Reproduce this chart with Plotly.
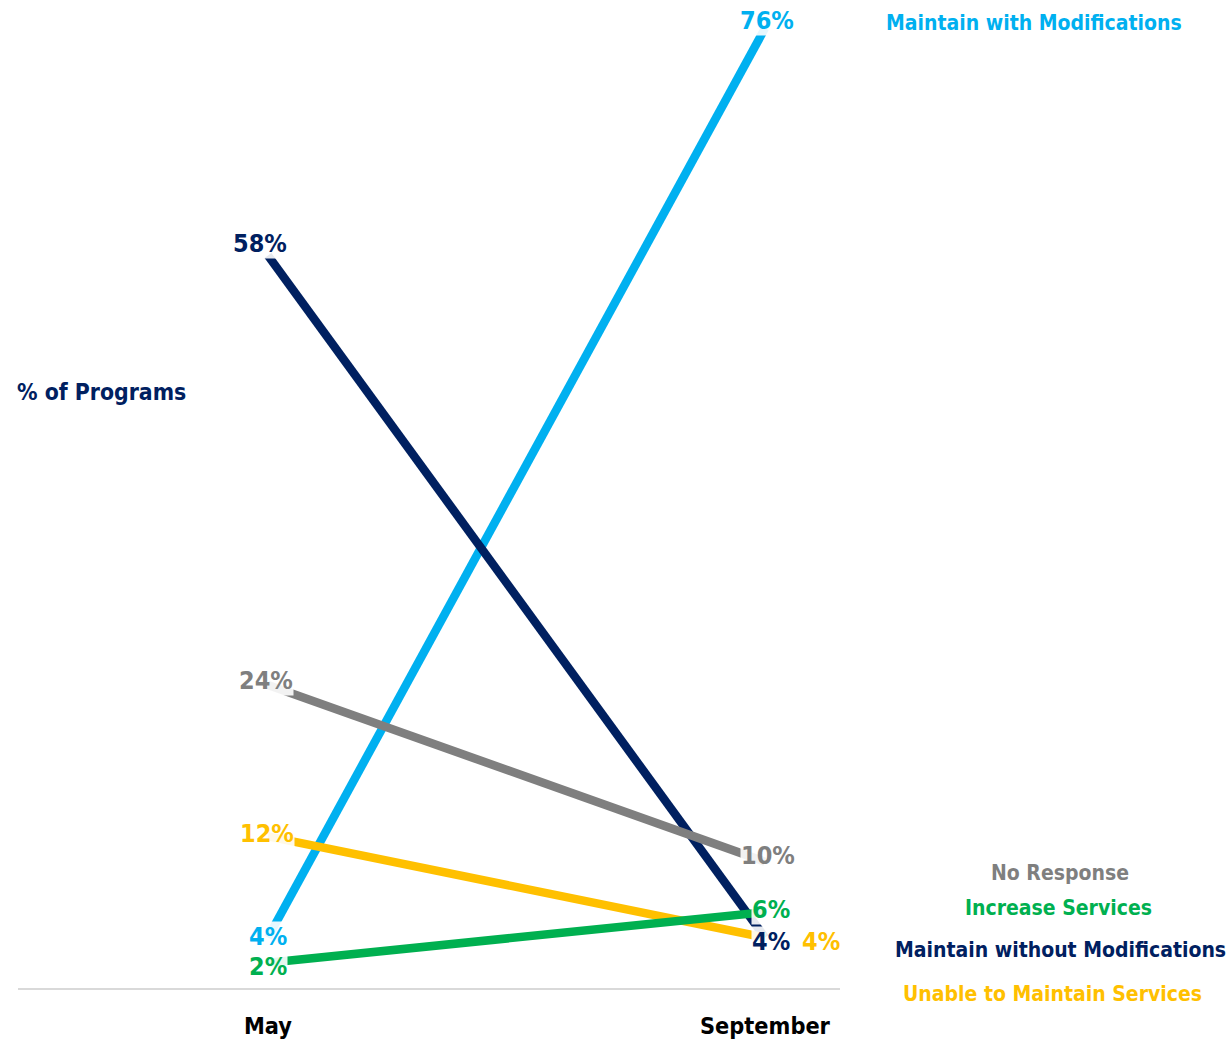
import plotly.graph_objects as go

periods = ["May", "September"]
series_names = ["Maintain with Modifications", "Maintain without Modifications",
                "No Response", "Unable to Maintain Services", "Increase Services"]
may_values = [4, 58, 24, 12, 2]
sep_values = [76, 4, 10, 4, 6]
colors = ["#00B0F0", "#002060", "#7F7F7F", "#FFC000", "#00B050"]

FONT = "DejaVu Sans Condensed, Liberation Sans Narrow, sans-serif"

# plot-area geometry (pixels) for converting paper positions
L, R, T, B = 18, 840, 3, 988

fig = go.Figure()
for name, a, b, c in zip(series_names, may_values, sep_values, colors):
    fig.add_trace(go.Scatter(x=[0, 1], y=[a, b], mode="lines", name=name,
                             line=dict(color=c, width=8.5), showlegend=False,
                             hoverinfo="skip"))

# label offsets (style only): (xshift, yshift) for May and September
may_shift = [(0, 1), (-8, 12), (-2, 4), (-1, 3), (0, -4)]
sep_shift = [(2, 8), (6, -4), (3, 6), (56, -4), (6, 3)]

for i, (a, b, c) in enumerate(zip(may_values, sep_values, colors)):
    for xv, v, sh in ((0, a, may_shift[i]), (1, b, sep_shift[i])):
        fig.add_annotation(x=xv, y=v, xref="x", yref="y", text=f"{v}%",
                           showarrow=False, xanchor="center", yanchor="middle",
                           xshift=sh[0], yshift=sh[1], bgcolor="rgba(255,255,255,0.9)",
                           borderpad=0,
                           font=dict(family=FONT, size=25, color=c, weight="bold"))

legend_items = [
    ("Maintain with Modifications", "#00B0F0", 1034, 23),
    ("No Response", "#7F7F7F", 1060, 873),
    ("Increase Services", "#00B050", 1058, 908),
    ("Maintain without Modifications", "#002060", 1060, 950),
    ("Unable to Maintain Services", "#FFC000", 1052, 994),
]
for text, c, px, py in legend_items:
    fig.add_annotation(x=(px - L) / (R - L), y=(B - py) / (B - T), xref="paper", yref="paper",
                       text=text, showarrow=False, xanchor="center", yanchor="middle",
                       font=dict(family=FONT, size=21, color=c, weight="bold"))

fig.add_annotation(x=(15 - L) / (R - L), y=(B - 392) / (B - T), xref="paper", yref="paper",
                   text="% of Programs", showarrow=False, xanchor="left", yanchor="middle",
                   font=dict(family=FONT, size=22.8, color="#002060", weight="bold"))

fig.update_layout(
    width=1228, height=1043,
    margin=dict(l=L, r=1228 - R, t=T, b=1043 - B),
    plot_bgcolor="white", paper_bgcolor="white",
    xaxis=dict(range=[-0.503, 1.151], tickvals=[0, 1], ticktext=periods,
               showgrid=False, zeroline=False, showline=True, linecolor="#D9D9D9",
               linewidth=2, ticks="", ticklabelstandoff=16,
               tickfont=dict(family=FONT, size=23.3, color="black", weight="bold")),
    yaxis=dict(range=[0, 78], visible=False),
)
fig.write_html("out.html")
